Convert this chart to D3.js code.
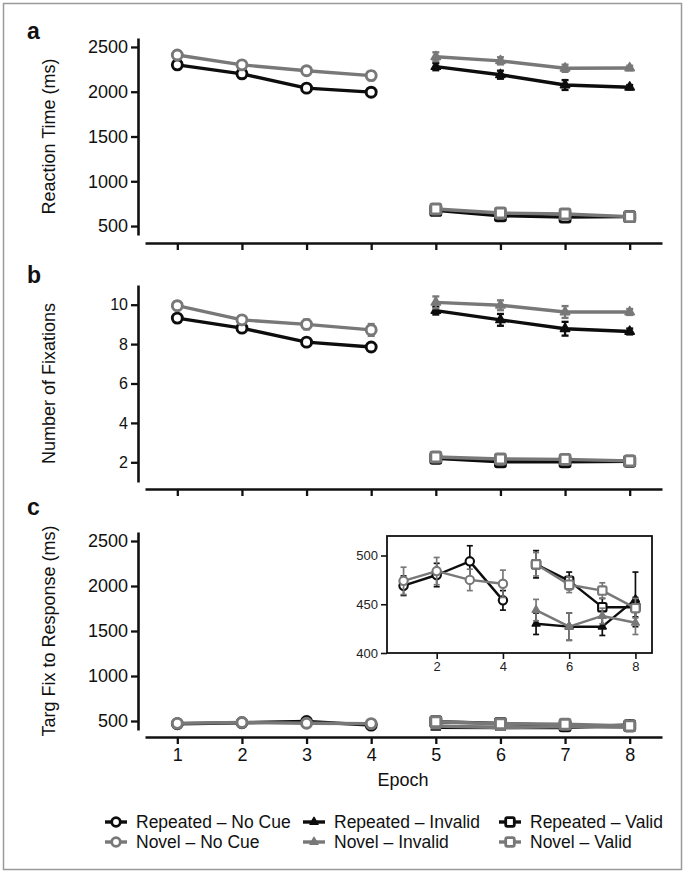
<!DOCTYPE html>
<html>
<head>
<meta charset="utf-8">
<script src="https://cdn.jsdelivr.net/npm/d3@7"></script>
<style>
  body { margin: 0; background: #fff; }
  text { font-family: "Liberation Sans", Arial, Helvetica, sans-serif; }
</style>
</head>
<body>
<div id="chart"></div>
<script>
// series order: Repeated No Cue, Repeated Invalid, Repeated Valid, Novel No Cue, Novel Invalid, Novel Valid
var seriesNames = ["Repeated \u2013 No Cue", "Repeated \u2013 Invalid", "Repeated \u2013 Valid",
                   "Novel \u2013 No Cue", "Novel \u2013 Invalid", "Novel \u2013 Valid"];
var seriesEpochs = [[1,2,3,4],[5,6,7,8],[5,6,7,8],[1,2,3,4],[5,6,7,8],[5,6,7,8]];
var epochTicks = [1,2,3,4,5,6,7,8];
var insetTicks = [2,4,6,8];

// a: reaction time (ms)
var rtMean = [[2300,2200,2040,1995],[2280,2190,2075,2050],[675,615,600,605],
              [2410,2300,2235,2180],[2390,2345,2262,2265],[690,645,635,605]];
var rtErr  = [[30,35,30,25],[40,45,55,25],[20,20,20,15],
              [30,30,35,50],[50,40,40,25],[20,20,20,15]];
var rtTicks = [500,1000,1500,2000,2500];

// b: number of fixations
var fixMean = [[9.32,8.81,8.1,7.85],[9.7,9.23,8.78,8.64],[2.2,2.03,2.03,2.05],
               [9.95,9.23,9.0,8.72],[10.12,9.97,9.63,9.63],[2.27,2.17,2.15,2.07]];
var fixErr  = [[0.2,0.2,0.15,0.15],[0.2,0.3,0.35,0.15],[0.1,0.1,0.1,0.1],
               [0.2,0.2,0.25,0.3],[0.3,0.25,0.3,0.15],[0.1,0.1,0.1,0.1]];
var fixTicks = [2,4,6,8,10];

// c: target fixation to response (ms)
var tfMean = [[469,480,494,454],[430,427,427,455],[491,474,447,447],
              [474,484,475,471],[444,427,438,431],[491,470,464,446]];
var tfErr  = [[10,12,16,10],[11,14,9,28],[14,9,9,10],
              [14,14,11,14],[11,14,8,12],[12,8,8,10]];
var insetYTicks = [400,450,500];

var black = "#0d0d0d", gray = "#787878";
function colorOf(i) { return i < 3 ? black : gray; }
function shapeOf(i) { return ["circle","triangle","square"][i % 3]; }

var svg = d3.select("#chart").append("svg").attr("width", 685).attr("height", 875);

svg.append("rect").attr("x", 3.5).attr("y", 3.5).attr("width", 678).attr("height", 866)
   .attr("fill", "none").attr("stroke", "#9a9a9a").attr("stroke-width", 1.5);

var x = d3.scaleLinear().domain([0.5, 8.5]).range([145, 662]);

function drawMarker(g, shape, cx, cy, col, r, sw) {
    if (shape == "circle") {
        g.append("circle").attr("cx", cx).attr("cy", cy).attr("r", r)
         .attr("fill", "#fff").attr("stroke", col).attr("stroke-width", sw);
    } else if (shape == "square") {
        g.append("rect").attr("x", cx - r).attr("y", cy - r).attr("width", 2*r).attr("height", 2*r)
         .attr("rx", 1.5).attr("fill", "#fff").attr("stroke", col).attr("stroke-width", sw);
    } else {
        g.append("path").attr("d", d3.symbol(d3.symbolTriangle, r*r*1.5)())
         .attr("transform", "translate(" + cx + "," + cy + ")")
         .attr("fill", col).attr("stroke", col).attr("stroke-width", 1.5).attr("stroke-linejoin", "round");
    }
}

function drawSeries(g, xs, ys, means, errs, lw, r, sw, cap) {
    for (var i = 0; i < 6; i++) {
        var pts = seriesEpochs[i].map(function(e, j) { return {e: e, m: means[i][j], s: errs[i][j]}; });
        var col = colorOf(i);
        // error bars
        pts.forEach(function(p) {
            var y1 = ys(p.m - p.s), y2 = ys(p.m + p.s), cx = xs(p.e);
            g.append("line").attr("x1", cx).attr("x2", cx).attr("y1", y1).attr("y2", y2)
             .attr("stroke", col).attr("stroke-width", sw * 0.8);
            [y1, y2].forEach(function(yy) {
                g.append("line").attr("x1", cx - cap).attr("x2", cx + cap).attr("y1", yy).attr("y2", yy)
                 .attr("stroke", col).attr("stroke-width", sw * 0.8);
            });
        });
        g.append("path").datum(pts)
         .attr("d", d3.line().x(function(d) { return xs(d.e); }).y(function(d) { return ys(d.m); }))
         .attr("fill", "none").attr("stroke", col).attr("stroke-width", lw).attr("stroke-linejoin", "round");
        pts.forEach(function(p) { drawMarker(g, shapeOf(i), xs(p.e), ys(p.m), col, r, sw); });
    }
}

function drawPanel(opts) {
    var g = svg.append("g");
    var y = d3.scaleLinear().domain(opts.domain).range([opts.bottom, opts.top]);

    var yAxis = g.append("g").attr("transform", "translate(138,0)")
        .call(d3.axisLeft(y).tickValues(opts.ticks).tickSize(7).tickSizeOuter(0).tickPadding(3)
              .tickFormat(d3.format("d")));
    yAxis.selectAll("text").style("font-size", opts.tickFont + "px").attr("fill", "#111");

    var xAxis = g.append("g").attr("transform", "translate(0," + opts.xAxisY + ")")
        .call(d3.axisBottom(x).tickValues(epochTicks).tickSize(7).tickSizeOuter(0).tickPadding(4)
              .tickFormat(opts.showX ? d3.format("d") : ""));
    xAxis.selectAll("text").style("font-size", "18px").attr("fill", "#111");

    [yAxis, xAxis].forEach(function(a) {
        a.select(".domain").attr("stroke", "#111").attr("stroke-width", 2.6);
        a.selectAll(".tick line").attr("stroke", "#111").attr("stroke-width", 2.3);
    });

    g.append("text").attr("transform", "translate(55," + ((opts.top + opts.bottom) / 2) + ") rotate(-90)")
     .attr("text-anchor", "middle").style("font-size", "18px").attr("fill", "#111").text(opts.label);
    g.append("text").attr("x", 27).attr("y", opts.letterY).style("font-size", "23px")
     .style("font-weight", "bold").attr("fill", "#111").text(opts.letter);

    drawSeries(g, x, y, opts.means, opts.errs, 3.4, 5, 2.9, 3.5);
    return g;
}

drawPanel({domain: [400, 2600], top: 38, bottom: 235, xAxisY: 243, ticks: rtTicks, tickFont: 18,
           means: rtMean, errs: rtErr, label: "Reaction Time (ms)", letter: "a", letterY: 39, showX: false});
drawPanel({domain: [1, 11], top: 285, bottom: 482, xAxisY: 489, ticks: fixTicks, tickFont: 16,
           means: fixMean, errs: fixErr, label: "Number of Fixations", letter: "b", letterY: 283, showX: false});
drawPanel({domain: [400, 2600], top: 532, bottom: 730, xAxisY: 737, ticks: rtTicks, tickFont: 18,
           means: tfMean, errs: tfErr, label: "Targ Fix to Response (ms)", letter: "c", letterY: 515, showX: true});

// inset for panel c
var ix = d3.scaleLinear().domain([0.5, 8.5]).range([387, 652]);
var iy = d3.scaleLinear().domain([400, 520]).range([653, 536]);
var inset = svg.append("g");
inset.append("rect").attr("x", 387).attr("y", 536).attr("width", 265).attr("height", 117)
     .attr("fill", "#fff").attr("stroke", "#111").attr("stroke-width", 1.8);
var iyAxis = inset.append("g").attr("transform", "translate(387,0)")
    .call(d3.axisLeft(iy).tickValues(insetYTicks).tickSize(6).tickSizeOuter(0).tickPadding(3));
var ixAxis = inset.append("g").attr("transform", "translate(0,653)")
    .call(d3.axisBottom(ix).tickValues(insetTicks).tickSize(6).tickSizeOuter(0).tickPadding(3));
[iyAxis, ixAxis].forEach(function(a) {
    a.select(".domain").attr("stroke", "none");
    a.selectAll(".tick line").attr("stroke", "#111").attr("stroke-width", 1.6);
    a.selectAll("text").style("font-size", "13px").attr("fill", "#222");
});
drawSeries(inset, ix, iy, tfMean, tfErr, 2.4, 4.2, 2.1, 3);

// x label
svg.append("text").attr("x", 403).attr("y", 786).attr("text-anchor", "middle")
   .style("font-size", "18px").attr("fill", "#111").text("Epoch");

// legend
var legendX = [116, 314, 510];
var legendY = [822, 842];
seriesNames.forEach(function(name, i) {
    var cx = legendX[i % 3], cy = legendY[Math.floor(i / 3)], col = colorOf(i);
    var lg = svg.append("g");
    lg.append("line").attr("x1", cx - 11).attr("x2", cx + 11).attr("y1", cy).attr("y2", cy)
      .attr("stroke", col).attr("stroke-width", 3.4);
    drawMarker(lg, shapeOf(i), cx, cy, col, 4.3, 2.8);
    lg.append("text").attr("x", cx + 20).attr("y", cy + 6).style("font-size", "17.5px")
      .attr("fill", "#111").text(name);
});
</script>
</body>
</html>
